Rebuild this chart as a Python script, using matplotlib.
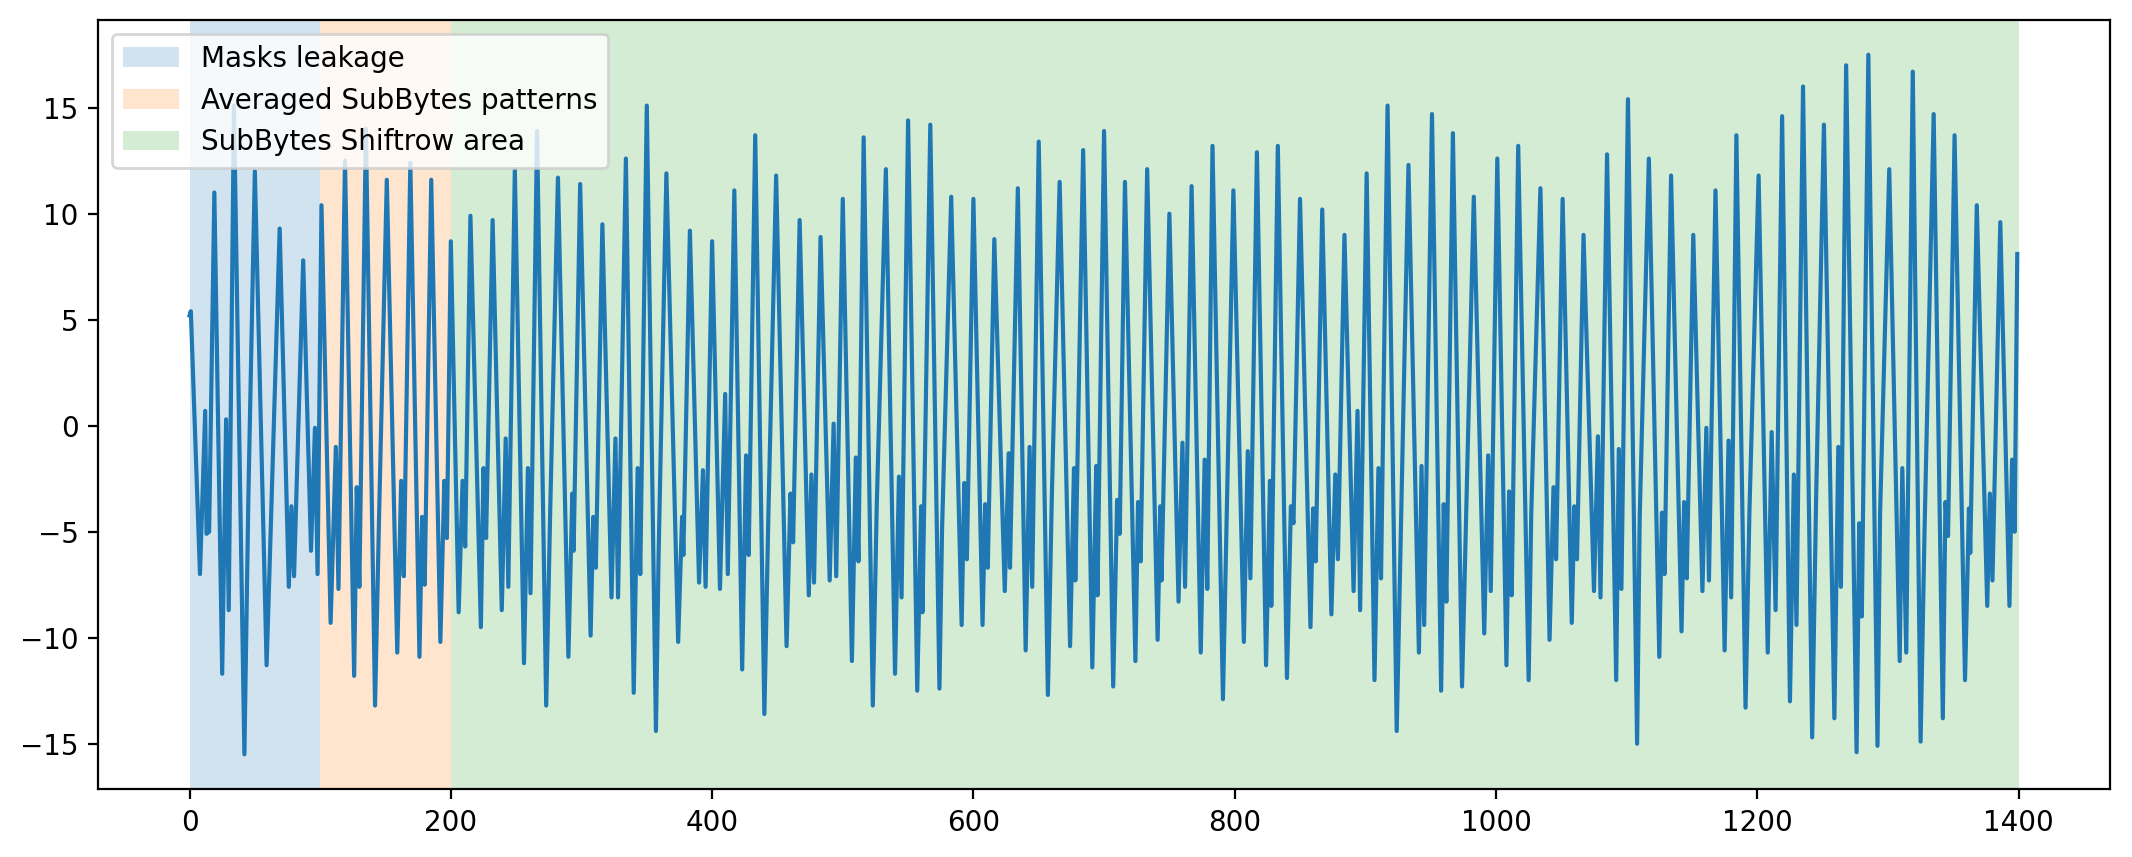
import matplotlib
matplotlib.use("Agg")
import matplotlib.pyplot as plt
import numpy as np

# averaged trace (sample index, value) in 200-sample blocks
idx_0 = [0, 1, 8, 12, 13, 15, 19, 25, 28, 30, 34, 42, 45, 50, 59, 62, 69, 76, 78, 80,
         87, 93, 96, 98, 101, 108, 112, 114, 119, 126, 128, 130, 135, 142, 145, 151, 159, 162, 164, 169,
         176, 178, 180, 185, 192, 195, 197, 200]
val_0 = [5.2, 5.4, -7.0, 0.7, -5.1, -5.0, 11.0, -11.7, 0.3, -8.7, 15.1, -15.5, -3.5, 12.0, -11.3, -5.2, 9.3, -7.6, -3.8, -7.1,
         7.8, -5.9, -0.1, -7.0, 10.4, -9.3, -1.0, -7.7, 12.5, -11.8, -2.9, -7.6, 14.0, -13.2, -4.5, 11.6, -10.7, -2.6, -7.1, 12.4,
         -10.9, -4.3, -7.5, 11.6, -10.2, -2.6, -5.3, 8.7]

idx_1 = [206, 209, 211, 215, 223, 225, 227, 232, 239, 242, 244, 249, 256, 259, 261, 266, 273, 276, 282, 290,
         293, 294, 299, 307, 309, 311, 316, 323, 326, 328, 334, 340, 343, 345, 350, 357, 359, 365, 374, 377,
         378, 383, 390, 393, 395, 400]
val_1 = [-8.8, -2.6, -5.7, 9.9, -9.5, -2.0, -5.3, 9.7, -8.7, -0.6, -7.6, 12.1, -11.2, -2.0, -7.9, 13.9, -13.2, -4.2, 11.7, -10.9,
         -3.2, -5.9, 11.4, -9.9, -4.3, -6.7, 9.5, -8.1, -0.6, -8.1, 12.6, -12.6, -2.0, -7.0, 15.1, -14.4, -6.2, 11.9, -10.2, -4.3,
         -6.1, 9.2, -7.4, -2.1, -7.6, 8.7]

idx_2 = [406, 410, 412, 417, 423, 426, 428, 433, 440, 443, 449, 457, 460, 462, 467, 474, 476, 478, 483, 490,
         493, 495, 500, 507, 510, 512, 516, 523, 526, 533, 540, 543, 545, 550, 557, 560, 561, 567, 574, 576,
         583, 591, 593, 595, 600]
val_2 = [-7.7, 1.5, -7.0, 11.1, -11.5, -1.4, -6.1, 13.7, -13.6, -4.4, 11.8, -10.4, -3.2, -5.5, 9.7, -8.0, -2.3, -7.4, 8.9, -7.3,
         0.1, -7.1, 10.7, -11.1, -1.5, -6.4, 13.6, -13.2, -3.8, 12.1, -11.7, -2.4, -8.1, 14.4, -12.5, -3.8, -8.8, 14.2, -12.4, -4.9,
         10.8, -9.4, -2.7, -6.3, 10.7]

idx_3 = [607, 609, 611, 616, 624, 627, 628, 634, 640, 643, 645, 650, 657, 660, 666, 674, 677, 678, 684, 691,
         694, 695, 700, 707, 710, 712, 716, 724, 726, 728, 733, 741, 743, 744, 750, 757, 760, 762, 767, 774,
         777, 779, 783, 791, 794, 799]
val_3 = [-9.4, -3.7, -6.7, 8.8, -7.8, -1.3, -6.7, 11.2, -10.6, -1.0, -7.6, 13.4, -12.7, -3.4, 11.5, -10.4, -2.0, -7.3, 13.0, -11.4,
         -1.9, -8.0, 13.9, -12.3, -3.5, -5.1, 11.5, -11.1, -3.6, -6.4, 12.1, -10.1, -3.8, -7.3, 10.0, -8.3, -0.8, -7.6, 11.3, -10.7,
         -1.6, -7.7, 13.2, -12.9, -3.9, 11.1]

idx_4 = [807, 810, 812, 817, 824, 827, 828, 833, 840, 843, 845, 850, 858, 860, 862, 867, 874, 877, 879, 884,
         891, 894, 896, 901, 907, 910, 912, 917, 924, 927, 933, 941, 943, 945, 951, 958, 960, 962, 967, 974,
         977, 983, 991, 994, 996]
val_4 = [-10.2, -1.2, -7.2, 12.9, -11.3, -2.6, -8.5, 13.2, -11.9, -3.8, -4.6, 10.7, -9.5, -3.9, -6.4, 10.2, -8.9, -2.3, -6.3, 9.0,
         -7.8, 0.7, -8.7, 11.9, -12.0, -2.0, -7.2, 15.1, -14.4, -5.5, 12.3, -10.7, -1.9, -9.4, 14.7, -12.5, -3.7, -8.3, 13.8, -12.3,
         -4.6, 10.8, -9.8, -1.4, -7.8]

idx_5 = [1001, 1008, 1010, 1012, 1017, 1025, 1027, 1034, 1041, 1044, 1046, 1051, 1058, 1060, 1062, 1067, 1075, 1078, 1080, 1085,
         1092, 1094, 1096, 1101, 1108, 1110, 1117, 1125, 1127, 1129, 1134, 1142, 1144, 1146, 1151, 1158, 1161, 1163, 1168, 1175,
         1178, 1180, 1184, 1191, 1194]
val_5 = [12.6, -11.3, -3.1, -8.0, 13.2, -12.0, -4.1, 11.2, -10.1, -2.9, -6.3, 10.7, -9.3, -3.8, -6.3, 9.0, -7.8, -0.5, -8.1, 12.8,
         -12.0, -1.1, -7.7, 15.4, -15.0, -4.3, 12.6, -10.9, -4.1, -7.0, 11.8, -9.7, -3.6, -7.2, 9.0, -7.8, -0.1, -7.3, 11.1, -10.6,
         -0.7, -8.1, 13.7, -13.3, -4.0]

idx_6 = [1201, 1208, 1211, 1214, 1219, 1225, 1228, 1230, 1235, 1242, 1245, 1251, 1259, 1262, 1264, 1268, 1276, 1278, 1280, 1285,
         1292, 1294, 1301, 1309, 1311, 1314, 1319, 1325, 1328, 1335, 1342, 1344, 1346, 1351, 1359, 1362, 1363, 1368, 1376, 1378,
         1380, 1386, 1393, 1395, 1397, 1399]
val_6 = [11.8, -10.7, -0.3, -8.7, 14.6, -13.0, -2.3, -9.4, 16.0, -14.7, -3.5, 14.2, -13.8, -1.0, -7.6, 17.0, -15.4, -4.6, -9.0, 17.5,
         -15.1, -4.1, 12.1, -11.1, -2.0, -10.7, 16.7, -14.9, -5.0, 14.7, -13.8, -3.6, -5.2, 13.7, -12.0, -3.9, -6.0, 10.4, -8.5, -3.2,
         -7.3, 9.6, -8.5, -1.6, -5.0, 8.1]

span_labels = ['Masks leakage', 'Averaged SubBytes patterns', 'SubBytes Shiftrow area']
span_start = [0, 100, 200]
span_end = [100, 200, 1400]
span_colors = ['tab:blue', 'tab:orange', 'tab:green']

x = np.concatenate([idx_0, idx_1, idx_2, idx_3, idx_4, idx_5, idx_6])
y = np.concatenate([val_0, val_1, val_2, val_3, val_4, val_5, val_6])

fig, ax = plt.subplots(figsize=(10.66, 4.285), dpi=200)
fig.subplots_adjust(left=0.046, right=0.9897, top=0.977, bottom=0.079)

ax.plot(x, y, color='tab:blue', linewidth=1.5)
for a, b, c, lab in zip(span_start, span_end, span_colors, span_labels):
    ax.axvspan(a, b, color=c, alpha=0.2, linewidth=0, label=lab)

ax.legend(loc='upper left', fontsize=10)

fig.savefig('out.png', dpi=200)
